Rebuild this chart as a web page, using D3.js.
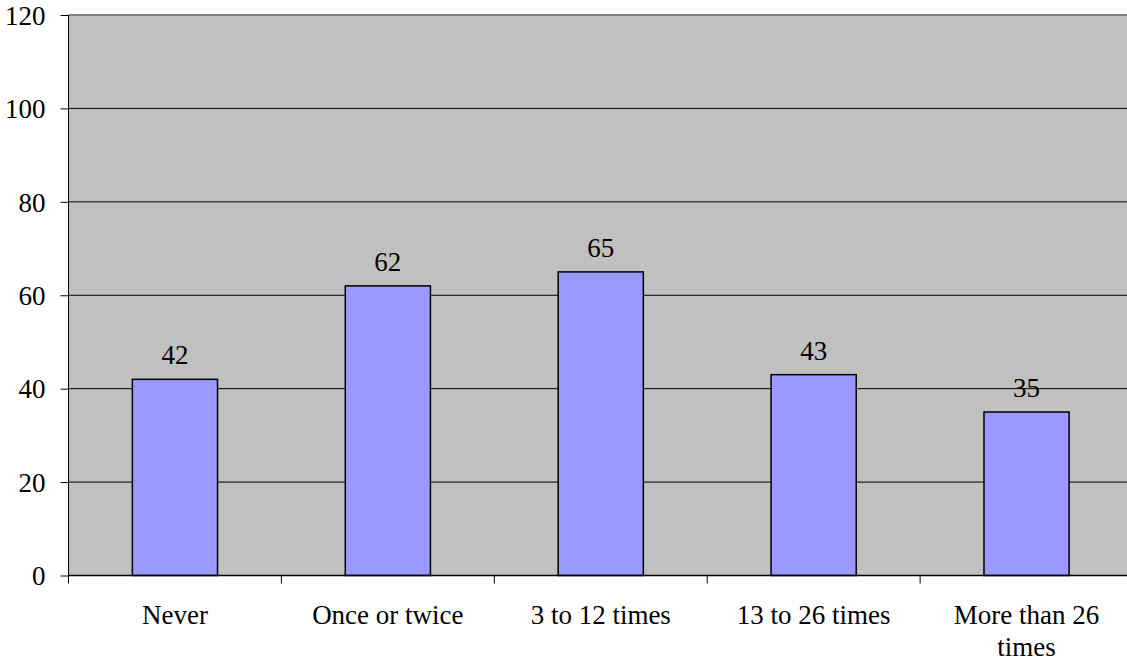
<!DOCTYPE html>
<html><head><meta charset="utf-8">
<script src="https://cdn.jsdelivr.net/npm/d3@7"></script>
<style>body{margin:0;background:#fff}svg{display:block}
svg text{font-family:"Liberation Serif","Times New Roman",serif !important;font-size:27px;fill:#000}</style>
</head><body>
<svg id="c" width="1127" height="663"></svg>
<script>
const categories = ["Never", "Once or twice", "3 to 12 times", "13 to 26 times", "More than 26 times"];
const values = [42, 62, 65, 43, 35];
const yTicks = [0, 20, 40, 60, 80, 100, 120];

const svg = d3.select("#c");
const L = 68.5, R = 1133, T = 15, B = 575.5;

const x = d3.scaleBand().domain(categories).range([L, R]).paddingInner(0.6).paddingOuter(0.3);
const xb = d3.scaleBand().domain(categories).range([L, R]);
const y = d3.scaleLinear().domain([0, 120]).range([B, T]);

svg.append("rect").attr("x", L).attr("y", T).attr("width", R - L).attr("height", B - T).attr("fill", "#C0C0C0");
svg.append("line").attr("x1", L).attr("x2", R).attr("y1", T).attr("y2", T).attr("stroke", "#808080").attr("stroke-width", 2);

svg.append("g").selectAll("line").data(yTicks.filter(d => d > 0 && d < 120)).join("line")
  .attr("x1", L).attr("x2", R).attr("y1", d => y(d)).attr("y2", d => y(d))
  .attr("stroke", "#000").attr("stroke-width", 1);

svg.append("g").selectAll("rect").data(values).join("rect")
  .attr("x", (d, i) => x(categories[i])).attr("width", x.bandwidth())
  .attr("y", d => y(d)).attr("height", d => B - y(d))
  .attr("fill", "#9999FF").attr("stroke", "#000").attr("stroke-width", 1.5);

svg.append("g").selectAll("text").data(values).join("text")
  .attr("x", (d, i) => x(categories[i]) + x.bandwidth() / 2).attr("y", d => y(d) - 15)
  .attr("text-anchor", "middle")
  .text(d => d);

// y axis
const yAxis = d3.axisLeft(y).tickValues(yTicks).tickSize(8).tickPadding(15);
const gy = svg.append("g").attr("transform", `translate(${L},0)`).call(yAxis);
gy.select(".domain").attr("stroke", "#000").attr("d", `M0,${T}V${B}`);
gy.selectAll("text").attr("dy", "0.34em");

// x axis
svg.append("line").attr("x1", L).attr("x2", R).attr("y1", B).attr("y2", B).attr("stroke", "#000").attr("stroke-width", 1.5);
const bounds = categories.map(c => xb(c)).concat([R]);
svg.append("g").selectAll("line").data(bounds).join("line")
  .attr("x1", d => d).attr("x2", d => d).attr("y1", B).attr("y2", B + 8).attr("stroke", "#000");

const lines = [["Never"], ["Once or twice"], ["3 to 12 times"], ["13 to 26 times"], ["More than 26", "times"]];
const xl = svg.append("g").selectAll("text").data(categories).join("text")
  .attr("x", d => xb(d) + xb.bandwidth() / 2).attr("y", 624)
  .attr("text-anchor", "middle");
xl.each(function(d, i) {
  const t = d3.select(this);
  lines[i].forEach((s, j) => t.append("tspan").attr("x", xb(d) + xb.bandwidth() / 2).attr("dy", j === 0 ? 0 : 32).text(s));
});
</script>
</body></html>
